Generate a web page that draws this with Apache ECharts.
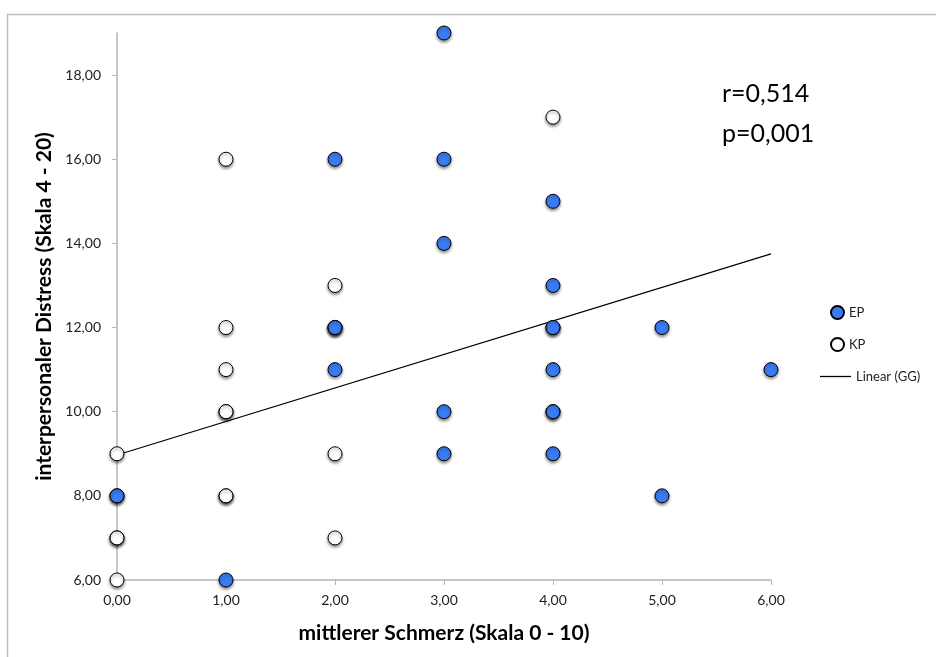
<!DOCTYPE html>
<html>
<head>
<meta charset="utf-8">
<script src="https://cdn.jsdelivr.net/npm/echarts@6/dist/echarts.min.js"></script>
<style>html,body{margin:0;padding:0;background:#fff}#c{width:936px;height:657px}</style>
</head>
<body>
<div id="c"></div>
<script>
// EP (filled blue) points: [mittlerer Schmerz, interpersonaler Distress]
const epPoints = [
  [0, 8], [0, 8],
  [1, 6],
  [2, 16], [2, 12], [2, 12], [2, 11],
  [3, 19], [3, 16], [3, 14], [3, 10], [3, 9],
  [4, 15], [4, 13], [4, 12], [4, 12], [4, 11], [4, 10], [4, 10], [4, 9],
  [5, 12], [5, 8],
  [6, 11]
];
// KP (white) points
const kpPoints = [
  [0, 9], [0, 7], [0, 7], [0, 6],
  [1, 16], [1, 12], [1, 11], [1, 10], [1, 10], [1, 8], [1, 8],
  [2, 13], [2, 12], [2, 9], [2, 7],
  [4, 17]
];
// Linear trend (GG) end points
const trendLine = [[0, 8.97], [6, 13.75]];
const xTicks = [0, 1, 2, 3, 4, 5, 6];
const yTicks = [6, 8, 10, 12, 14, 16, 18];
const statsText = ['r=0,514', 'p=0,001'];

const fmt = v => v.toFixed(2).replace('.', ',');
const FONT = 'Lato, "Open Sans", sans-serif';
const shadow = {shadowColor: 'rgba(0,0,0,0.45)', shadowBlur: 3, shadowOffsetX: 0, shadowOffsetY: 2};

const chart = echarts.init(document.getElementById('c'), null, {renderer: 'canvas'});
chart.setOption({
  animation: false,
  backgroundColor: '#fff',
  textStyle: {fontFamily: FONT},
  grid: {left: 117, right: 165, top: 33, bottom: 77, containLabel: false},
  xAxis: {
    type: 'value', min: 0, max: 6, interval: 1,
    name: 'mittlerer Schmerz (Skala 0 - 10)', nameLocation: 'middle', nameGap: 43,
    nameTextStyle: {fontFamily: FONT, fontSize: 21, fontWeight: 'bold', color: '#000'},
    axisLine: {show: true, lineStyle: {color: '#b4b4b4', width: 1.5}},
    axisTick: {show: true, length: 5, lineStyle: {color: '#b4b4b4'}, customValues: xTicks},
    axisLabel: {fontFamily: FONT, fontSize: 14, color: '#222', margin: 13, formatter: fmt, customValues: xTicks},
    splitLine: {show: false}
  },
  yAxis: {
    type: 'value', min: 6, max: 19, interval: 1,
    name: 'interpersonaler Distress (Skala 4 - 20)', nameLocation: 'middle', nameGap: 60,
    nameTextStyle: {fontFamily: FONT, fontSize: 21, fontWeight: 'bold', color: '#000'},
    axisLine: {show: true, lineStyle: {color: '#b4b4b4', width: 1.5}},
    axisTick: {show: true, length: 5, lineStyle: {color: '#b4b4b4'}, customValues: yTicks},
    axisLabel: {fontFamily: FONT, fontSize: 14, color: '#222', margin: 16, formatter: fmt, customValues: yTicks},
    splitLine: {show: false}
  },
  legend: [
    {data: [{name: 'EP', icon: 'circle'}], left: 825, top: 300, itemWidth: 13, itemHeight: 13, itemGap: 0,
     textStyle: {fontFamily: FONT, fontSize: 13, color: '#222'}},
    {data: [{name: 'KP', icon: 'circle'}], left: 825, top: 332, itemWidth: 13, itemHeight: 13, itemGap: 0,
     textStyle: {fontFamily: FONT, fontSize: 13, color: '#222'}},
    {data: [{name: 'Linear (GG)', icon: 'rect'}], left: 815, top: 365, itemWidth: 31, itemHeight: 1.3, itemGap: 0,
     textStyle: {fontFamily: FONT, fontSize: 13, color: '#222'}}
  ],
  graphic: [
    {type: 'rect', left: 5, top: 12, shape: {width: 1200, height: 1200},
     style: {fill: 'none', stroke: '#bdbdbd', lineWidth: 1.5}, silent: true},
    {type: 'text', left: 722, top: 81, style: {text: statsText[0], font: '25px ' + FONT, fill: '#000'}},
    {type: 'text', left: 722, top: 121, style: {text: statsText[1], font: '25px ' + FONT, fill: '#000'}}
  ],
  series: [
    {
      name: 'Linear (GG)', type: 'line', data: trendLine, showSymbol: false, symbol: 'none',
      lineStyle: {color: '#000', width: 1.2}, itemStyle: {color: '#000'}, z: 1
    },
    {
      name: 'KP', type: 'scatter', data: kpPoints, symbol: 'circle', symbolSize: 14,
      itemStyle: Object.assign({color: '#ffffff', opacity: 1, borderColor: '#000', borderWidth: 1}, shadow), z: 2
    },
    {
      name: 'EP', type: 'scatter', data: epPoints, symbol: 'circle', symbolSize: 14,
      itemStyle: Object.assign({color: '#3b7cf4', opacity: 1, borderColor: '#000', borderWidth: 1}, shadow), z: 3
    }
  ]
});
</script>
</body>
</html>
